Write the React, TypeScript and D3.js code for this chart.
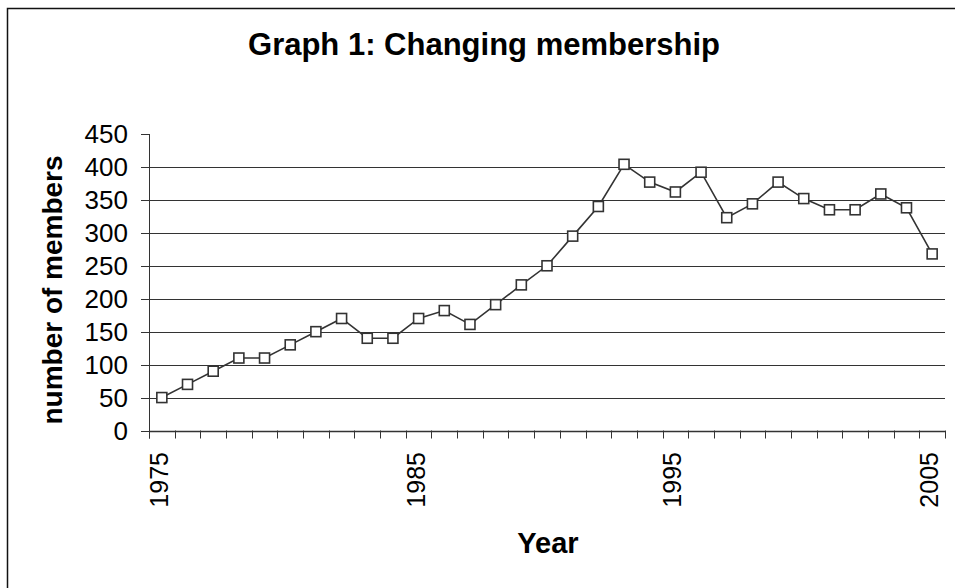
import React from "react";
import * as d3 from "d3";

const years: number[] = [
  1975, 1976, 1977, 1978, 1979, 1980, 1981, 1982, 1983, 1984,
  1985, 1986, 1987, 1988, 1989, 1990, 1991, 1992, 1993, 1994,
  1995, 1996, 1997, 1998, 1999, 2000, 2001, 2002, 2003, 2004, 2005,
];
const members: number[] = [
  50, 70, 90, 110, 110, 130, 150, 170, 140, 140,
  170, 182, 161, 191, 221, 250, 295, 340, 404, 377,
  362, 392, 323, 344, 377, 352, 335, 335, 359, 338, 268,
];
const yTicks: number[] = [0, 50, 100, 150, 200, 250, 300, 350, 400, 450];
const xLabelYears: number[] = [1975, 1985, 1995, 2005];

const FONT = "'Liberation Sans', Arial, Helvetica, sans-serif";
const INK = "#333";

export default function App() {
  const W = 955;
  const H = 588;
  const left = 149;
  const right = 945;
  const top = 134;
  const bottom = 430.5;

  const x = d3
    .scaleBand<number>()
    .domain(years)
    .range([left, right])
    .paddingInner(0)
    .paddingOuter(0);
  const y = d3.scaleLinear().domain([0, 450]).range([bottom, top]);
  const cx = (yr: number) => (x(yr) as number) + x.bandwidth() / 2;

  const line = d3
    .line<number>()
    .x((_, i) => cx(years[i]))
    .y((d) => y(d));

  const boundaries = years.map((yr) => x(yr) as number).concat([right]);
  const ms = 10;

  return (
    <svg
      width={W}
      height={H}
      style={{ position: "absolute", left: 0, top: 0, background: "#fff" }}
      fontFamily={FONT}
    >
      <rect x={0} y={0} width={W} height={H} fill="#fff" />
      <rect x={7.5} y={8.5} width={W + 20} height={H + 20} fill="none" stroke="#111" strokeWidth={1.5} />

      <text x={484} y={55} textAnchor="middle" fontSize={31} fontWeight="bold" fill="#000">
        Graph 1: Changing membership
      </text>

      {/* gridlines */}
      {yTicks
        .filter((t) => t > 0 && t < 450)
        .map((t) => (
          <line key={"g" + t} x1={left} x2={right} y1={Math.round(y(t)) + 0.5} y2={Math.round(y(t)) + 0.5} stroke={INK} strokeWidth={1} />
        ))}

      {/* y axis */}
      <line x1={left + 0.5} x2={left + 0.5} y1={top} y2={bottom + 8} stroke={INK} strokeWidth={1} />
      {yTicks.map((t) => (
        <g key={"yt" + t}>
          <line x1={left - 8} x2={left} y1={Math.round(y(t)) + 0.5} y2={Math.round(y(t)) + 0.5} stroke={INK} strokeWidth={1} />
          <text x={128} y={y(t)} dy="0.35em" textAnchor="end" fontSize={26} fill="#000">
            {t}
          </text>
        </g>
      ))}

      {/* x axis */}
      <line x1={left} x2={right} y1={Math.round(bottom) + 0.5} y2={Math.round(bottom) + 0.5} stroke={INK} strokeWidth={1.5} />
      {boundaries.map((b, i) => (
        <line key={"xt" + i} x1={Math.round(b) + 0.5} x2={Math.round(b) + 0.5} y1={bottom} y2={bottom + 8} stroke={INK} strokeWidth={1} />
      ))}
      {xLabelYears.map((yr) => (
        <text
          key={"xl" + yr}
          transform={`translate(${cx(yr) + 6},452) rotate(-90)`}
          textAnchor="end"
          fontSize={25}
          fill="#000"
        >
          {yr}
        </text>
      ))}

      {/* axis titles */}
      <text transform={`translate(62,290) rotate(-90)`} textAnchor="middle" fontSize={28} fontWeight="bold" fill="#000">
        number of members
      </text>
      <text x={548} y={553} textAnchor="middle" fontSize={29} fontWeight="bold" fill="#000">
        Year
      </text>

      {/* series */}
      <path d={line(members) || ""} fill="none" stroke={INK} strokeWidth={1.6} />
      {members.map((v, i) => (
        <rect
          key={"m" + i}
          x={cx(years[i]) - ms / 2}
          y={y(v) - ms / 2}
          width={ms}
          height={ms}
          fill="#fff"
          stroke={INK}
          strokeWidth={1.6}
        />
      ))}
    </svg>
  );
}
